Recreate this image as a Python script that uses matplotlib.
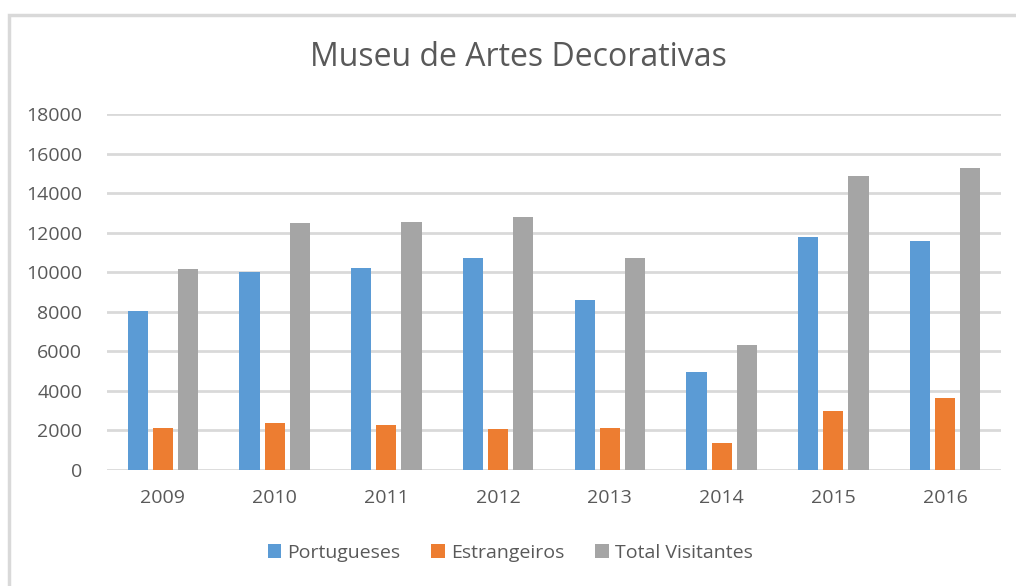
import numpy as np
import matplotlib.pyplot as plt
from matplotlib.patches import Rectangle

anos = ['2009', '2010', '2011', '2012', '2013', '2014', '2015', '2016']
portugueses = [8040, 10010, 10210, 10720, 8590, 4950, 11760, 11560]
estrangeiros = [2110, 2360, 2260, 2060, 2110, 1350, 3000, 3620]
total_visitantes = [10160, 12490, 12540, 12790, 10720, 6310, 14850, 15260]

series = [('Portugueses', portugueses, '#5b9bd5'),
          ('Estrangeiros', estrangeiros, '#ed7d31'),
          ('Total Visitantes', total_visitantes, '#a5a5a5')]

texto = '#595959'
plt.rcParams['font.family'] = ['Open Sans', 'DejaVu Sans']

fig = plt.figure(figsize=(10.16, 5.86), dpi=100)
ax = fig.add_axes([107 / 1016, 1 - 470 / 586, 894 / 1016, 356 / 586])

x = np.arange(len(anos))
largura = 0.18
passo = 0.225
for i, (nome, valores, cor) in enumerate(series):
    ax.bar(x + (i - 1) * passo, valores, largura, color=cor, label=nome, zorder=3)

ax.set_xlim(-0.5, len(anos) - 0.5)
ax.set_ylim(0, 18000)
ax.set_yticks(range(0, 18001, 2000))
ax.set_xticks(x)
ax.set_xticklabels(anos)
ax.yaxis.grid(True, color='#d9d9d9', linewidth=2, zorder=0)
for s in ax.spines.values():
    s.set_visible(False)
ax.tick_params(axis='both', length=0, labelsize=14, labelcolor=texto)
ax.tick_params(axis='y', pad=18)
ax.tick_params(axis='x', pad=14)

fig.text(518 / 1016, 1 - 58 / 586, 'Museu de Artes Decorativas', ha='center', va='center',
         fontsize=23, color=texto)

fig.legend(loc='center', bbox_to_anchor=(510 / 1016, 1 - 553 / 586), ncol=3, frameon=False,
           fontsize=14, labelcolor=texto, handlelength=0.7, handleheight=0.7,
           handletextpad=0.3, columnspacing=1.6)

fig.patches.append(Rectangle((8.5 / 1016, -0.1), 1.2, 1.1 - 15.5 / 586,
                             transform=fig.transFigure, fill=False, edgecolor='#d9d9d9',
                             linewidth=2.5))

fig.savefig('out.png', dpi=100)
